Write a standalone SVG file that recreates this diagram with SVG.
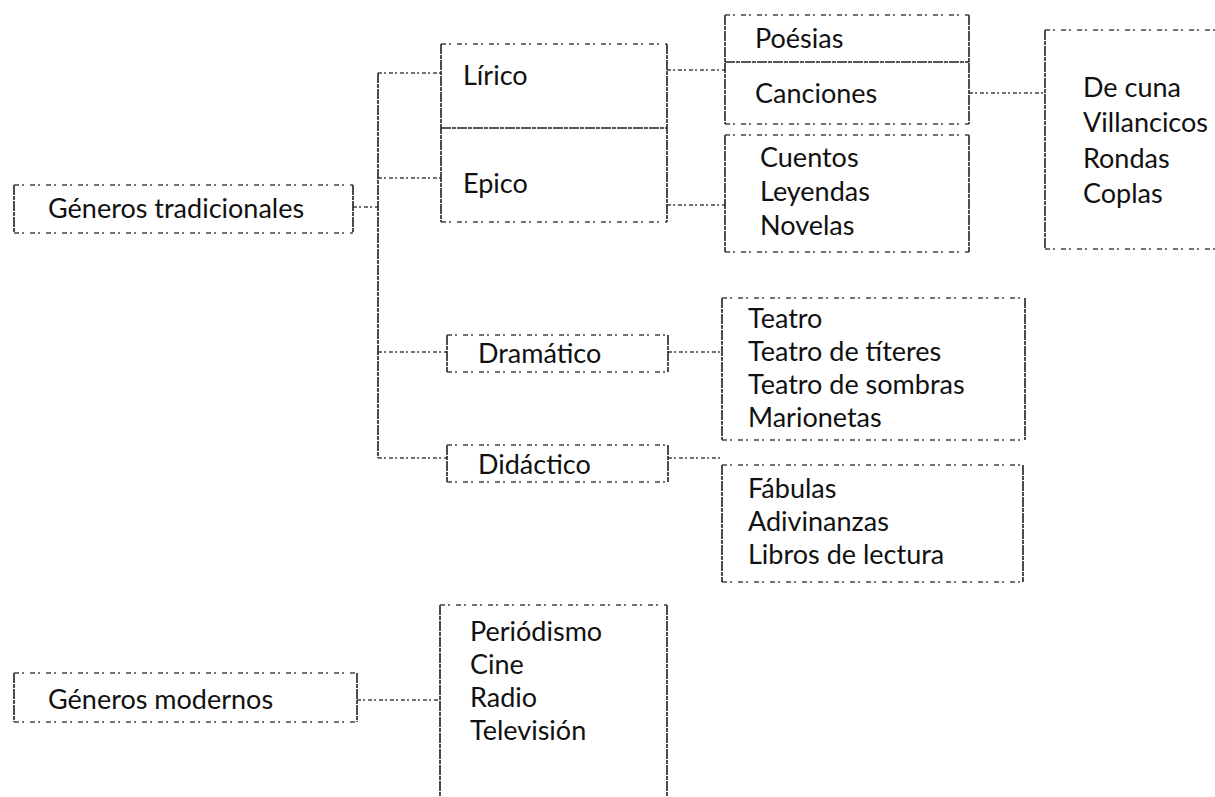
<svg xmlns="http://www.w3.org/2000/svg" width="1215" height="797" viewBox="0 0 1215 797">
<style>
.v{stroke:#222;stroke-width:1.6;stroke-dasharray:10 1 4 1;fill:none}
.h{stroke:#444;stroke-width:1.3;stroke-dasharray:5 3 2 6;fill:none}
.c{stroke:#444;stroke-width:1.3;stroke-dasharray:4 2 2 3;fill:none}
text{font-family:Lato,"Open Sans","Liberation Sans",sans-serif;font-size:27px;fill:#111}
</style>
<rect width="1215" height="797" fill="#fff"/>
<g id="connectors">
<path class="c" d="M353 207H378M378 73H441M378 178H441M378 352H447M378 458H447M667 70H725M667 205H725M969 93H1045M668 352H722M668 458H722M357 700H440"/>
<path class="v" d="M378 73V458"/>
</g>
<g id="generos-tradicionales">
<path class="v" d="M14 185V233M353 185V233"/><path class="h" d="M14 185H353M14 233H353"/>
<text x="48" y="218">Géneros tradicionales</text>
</g>
<g id="lirico-epico">
<path class="v" d="M441 44V222M667 44V222"/><path class="h" d="M441 44H667M441 222H667"/>
<path class="v" d="M441 128H667"/>
<text x="463" y="85">Lírico</text>
<text x="463" y="193">Epico</text>
</g>
<g id="poesias-canciones">
<path class="v" d="M725 15V124M969 15V124"/><path class="h" d="M725 15H969M725 124H969"/>
<path class="v" d="M725 62H969"/>
<text x="755" y="48">Poésias</text>
<text x="755" y="103">Canciones</text>
</g>
<g id="cuentos">
<path class="v" d="M725 135V252M969 135V252"/><path class="h" d="M725 135H969M725 252H969"/>
<text x="760" y="167">Cuentos</text>
<text x="760" y="201">Leyendas</text>
<text x="760" y="235">Novelas</text>
</g>
<g id="canciones-tipos">
<path class="v" d="M1045 30V249"/><path class="h" d="M1045 30H1215M1045 249H1215"/>
<text x="1083" y="97">De cuna</text>
<text x="1083" y="132">Villancicos</text>
<text x="1083" y="168">Rondas</text>
<text x="1083" y="203">Coplas</text>
</g>
<g id="dramatico">
<path class="v" d="M447 335V372M668 335V372"/><path class="h" d="M447 335H668M447 372H668"/>
<text x="478" y="363">Dramático</text>
</g>
<g id="didactico">
<path class="v" d="M447 445V482M668 445V482"/><path class="h" d="M447 445H668M447 482H668"/>
<text x="478" y="474">Didáctico</text>
</g>
<g id="teatro">
<path class="v" d="M722 298V440M1025 298V440"/><path class="h" d="M722 298H1025M722 440H1025"/>
<text x="748" y="328">Teatro</text>
<text x="748" y="361">Teatro de títeres</text>
<text x="748" y="394">Teatro de sombras</text>
<text x="748" y="427">Marionetas</text>
</g>
<g id="fabulas">
<path class="v" d="M722 465V582M1023 465V582"/><path class="h" d="M722 465H1023M722 582H1023"/>
<text x="748" y="498">Fábulas</text>
<text x="748" y="531">Adivinanzas</text>
<text x="748" y="564">Libros de lectura</text>
</g>
<g id="generos-modernos">
<path class="v" d="M14 673V722M357 673V722"/><path class="h" d="M14 673H357M14 722H357"/>
<text x="48" y="709">Géneros modernos</text>
</g>
<g id="periodismo">
<path class="v" d="M440 605V797M667 605V797"/><path class="h" d="M440 605H667"/>
<text x="470" y="641">Periódismo</text>
<text x="470" y="674">Cine</text>
<text x="470" y="707">Radio</text>
<text x="470" y="740">Televisión</text>
</g>
</svg>
